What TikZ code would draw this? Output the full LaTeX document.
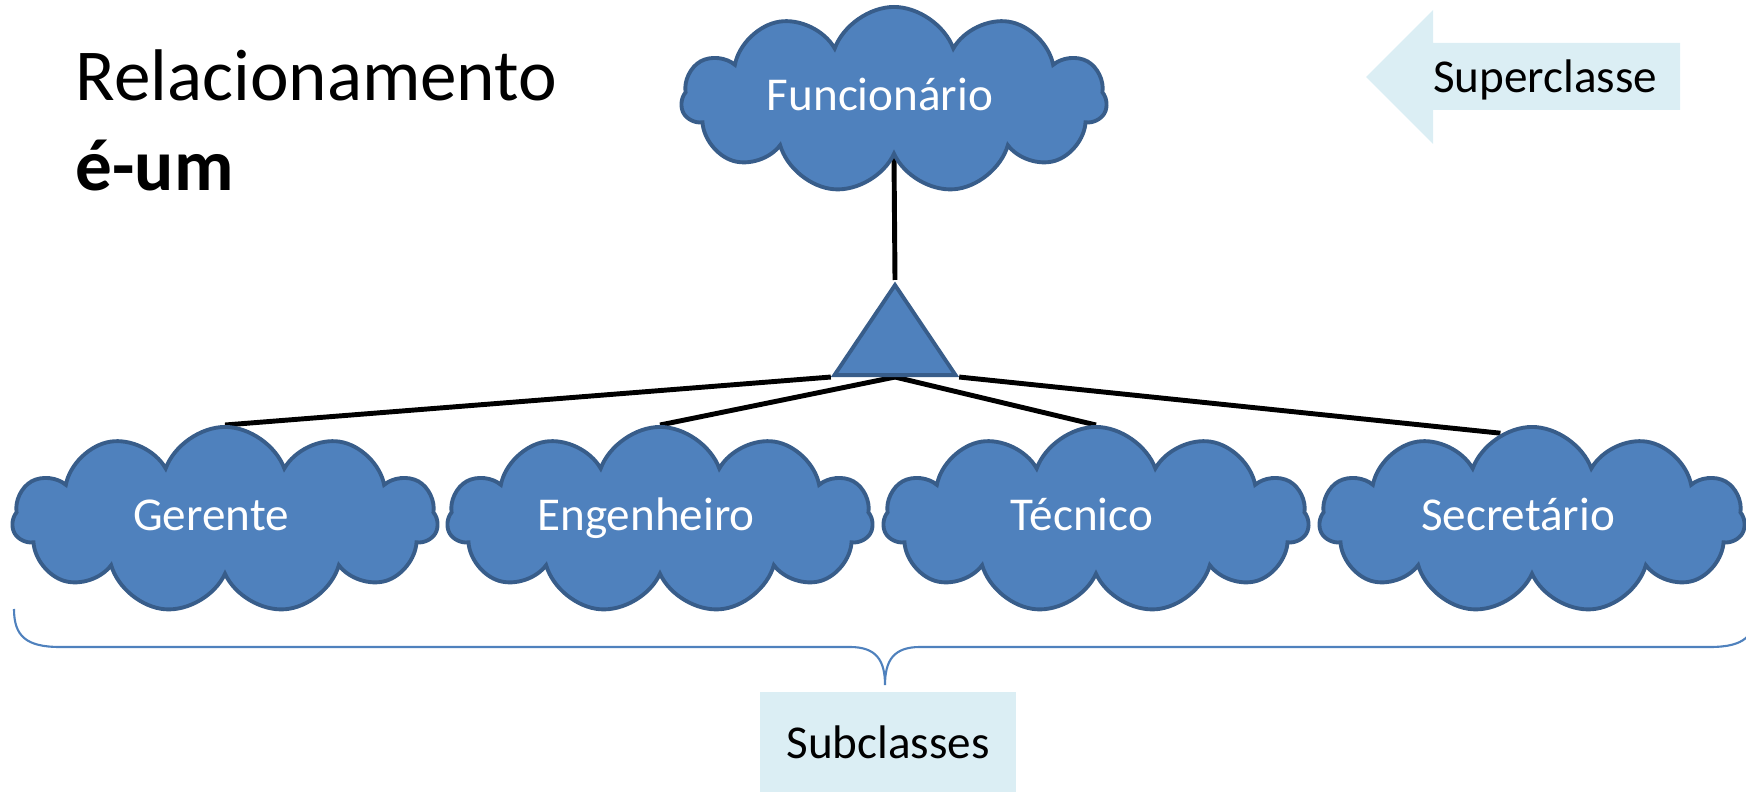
\documentclass[tikz,border=0pt]{standalone}
\usepackage{fontspec}
\setmainfont{Carlito}
\usepackage{tikz}
\usetikzlibrary{shapes.symbols, shapes.geometric, backgrounds}

\newcommand{\cloudfont}{\fontsize{13.4}{16}\selectfont}
\newcommand{\titlefont}{\fontsize{20.8}{25}\selectfont}

\begin{document}
\begin{tikzpicture}[x=0.01cm, y=-0.01cm,
    classcloud/.style={cloud, cloud puffs=11, cloud puff arc=140, cloud ignores aspect,
        minimum width=4.25cm, minimum height=1.86cm, inner sep=0pt,
        text height=0.62em, text depth=0pt, execute at end node={\hspace*{0.28cm}},
        fill=cloudblue, draw=cloudedge, line width=1.1pt, text=white, font=\cloudfont},
    isatri/.style={isosceles triangle, isosceles triangle stretches, shape border rotate=90,
        minimum width=1.21cm, minimum height=0.9cm, inner sep=0pt,
        fill=cloudblue, draw=cloudedge, line width=1.1pt},
    link/.style={line width=1.4pt, black},
    labelbox/.style={fill=lightbox, font=\cloudfont}]
    % Colors
    \definecolor{cloudblue}{HTML}{4F81BD}
    \definecolor{cloudedge}{HTML}{385D8A}
    \definecolor{lightbox}{HTML}{DBEEF4}

    \useasboundingbox (0,0) rectangle (1746,792);

    % Title
    \node[anchor=base west, inner sep=0pt, font=\titlefont] (title) at (75,101) {Relacionamento};
    \node[anchor=base west, inner sep=0pt, font=\titlefont\bfseries] (isarel) at (75,191) {é-um};

    % Superclass
    \node[classcloud] (func) at (894,100) {Funcionário};
    \node[isatri, anchor=apex] (isa) at (895,280) {};

    % Subclasses
    \foreach \name/\xpos/\txt in {ger/225/Gerente, eng/660/Engenheiro, tec/1096/Técnico, sec/1532/Secretário} {
        \node[classcloud] (\name) at (\xpos,520) {\txt};
    }

    % Links
    \begin{scope}[on background layer]
        \draw[link] (func.south) -- (isa.apex);
        \draw[link] (isa.left corner) -- (ger.north);
        \draw[link] (isa.lower side) -- (eng.north);
        \draw[link] (isa.lower side) -- (tec.north);
        \draw[link] (isa.right corner) -- (sec.110);
    \end{scope}

    % Superclasse arrow
    \fill[lightbox] (1366,77) -- (1433,10) -- (1433,43) -- (1680,43)
        -- (1680,110) -- (1433,110) -- (1433,144) -- cycle;
    \node[anchor=base, inner sep=0pt, font=\cloudfont] (super) at (1545,93) {Superclasse};

    % Brace
    \draw[cloudblue, line width=0.6pt] (14,609) .. controls (14,636) and (26,647) .. (60,647)
        -- (850,647) .. controls (876,647) and (885,660) .. (885,685)
        .. controls (885,660) and (894,647) .. (920,647)
        -- (1710,647) .. controls (1744,647) and (1756,636) .. (1756,609);

    \node[labelbox, minimum width=2.55cm, minimum height=1cm] (sub) at (888,742) {Subclasses};
\end{tikzpicture}
\end{document}
